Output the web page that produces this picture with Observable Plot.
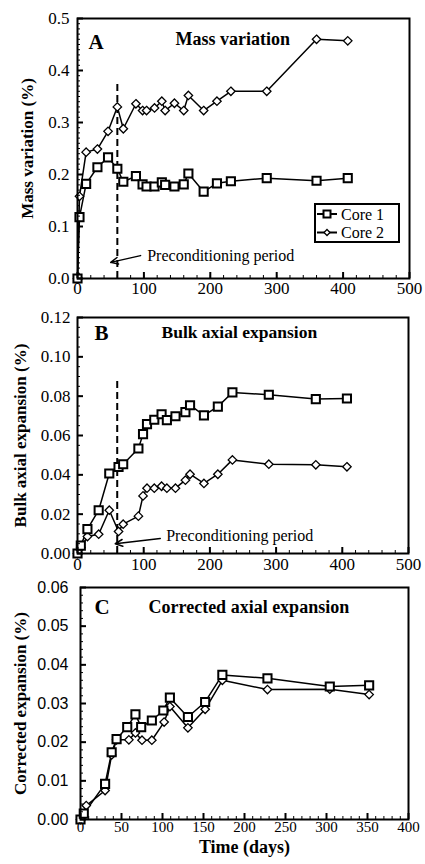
<!DOCTYPE html>
<html><head><meta charset="utf-8">
<script src="https://cdn.jsdelivr.net/npm/d3@7"></script>
<script src="https://cdn.jsdelivr.net/npm/@observablehq/plot@0.6"></script>
<style>
body{margin:0;background:#fff;}
#wrap{position:relative;width:425px;height:864px;overflow:hidden;}
#wrap > svg{display:block;}
#legend{position:absolute;left:314px;top:203px;}
</style></head><body><div id="wrap"></div>
<script>
// ---------- Panel A: mass variation ----------
const daysA = [0, 3, 13, 30, 46, 60, 69, 88, 98, 104, 116, 127, 132, 146, 160, 167, 190, 210, 231, 285, 360, 407];
const massCore1 = [0, 0.118, 0.182, 0.214, 0.233, 0.211, 0.186, 0.197, 0.181, 0.177, 0.177, 0.185, 0.180, 0.177, 0.181, 0.202, 0.167, 0.183, 0.187, 0.193, 0.188, 0.193];
const massCore2 = [0, 0.158, 0.243, 0.249, 0.283, 0.330, 0.288, 0.336, 0.323, 0.323, 0.328, 0.341, 0.323, 0.337, 0.323, 0.352, 0.323, 0.341, 0.360, 0.360, 0.460, 0.457];

// ---------- Panel B: bulk axial expansion ----------
const daysB = [0, 5, 15, 32, 48, 62, 69, 92, 99, 105, 116, 127, 135, 148, 163, 170, 191, 212, 234, 289, 360, 407];
const bulkCore1 = [0, 0.0040, 0.0124, 0.0220, 0.0407, 0.0440, 0.0454, 0.0534, 0.0607, 0.0658, 0.0680, 0.0708, 0.0678, 0.0698, 0.0719, 0.0754, 0.0702, 0.0747, 0.0819, 0.0807, 0.0785, 0.0788];
const bulkCore2 = [0, 0.0030, 0.0086, 0.0098, 0.0220, 0.0112, 0.0149, 0.0190, 0.0293, 0.0332, 0.0332, 0.0342, 0.0332, 0.0332, 0.0373, 0.0403, 0.0356, 0.0403, 0.0476, 0.0454, 0.0451, 0.0441];

// ---------- Panel C: corrected axial expansion ----------
const daysC1 = [0, 4, 30, 38, 44, 57, 67, 74, 87, 101, 109, 131, 152, 173, 228, 304, 352];
const corrCore1 = [0, 0.0015, 0.0092, 0.0174, 0.0208, 0.0239, 0.0272, 0.0239, 0.0256, 0.0282, 0.0315, 0.0265, 0.0304, 0.0374, 0.0365, 0.0344, 0.0347];
const daysC2 = [0, 7, 30, 38, 44, 59, 67, 75, 87, 102, 109, 131, 152, 173, 228, 304, 352];
const corrCore2 = [0, 0.0036, 0.0075, 0.0167, 0.0206, 0.0206, 0.0224, 0.0205, 0.0205, 0.0252, 0.0292, 0.0237, 0.0285, 0.0360, 0.0336, 0.0337, 0.0323];

// ---------- ticks ----------
const xTicksAB = [0, 100, 200, 300, 400, 500];
const xMinorAB = d3.range(0, 501, 20);
const yTicksA = [0, 0.1, 0.2, 0.3, 0.4, 0.5];
const yMinorA = d3.range(0, 0.5001, 0.01);
const yTicksB = [0, 0.02, 0.04, 0.06, 0.08, 0.10, 0.12];
const yMinorB = d3.range(0, 0.1201, 0.005);
const xTicksC = [0, 50, 100, 150, 200, 250, 300, 350, 400];
const xMinorC = d3.range(0, 401, 10);
const yTicksC = [0, 0.01, 0.02, 0.03, 0.04, 0.05, 0.06];
const yMinorC = d3.range(0, 0.0601, 0.002);

// ---------- annotations ----------
const precondDay = 60;
const precondTopA = 0.38, precondTopB = 0.089;
const arrowA = {x1: 95, y1: 0.044, x2: 50, y2: 0.031};
const arrowB = {x1: 125, y1: 0.0076, x2: 57, y2: 0.0050};
const labelA = {x: 105, y: 0.044};
const labelB = {x: 134, y: 0.009};
const seriesNames = ["Core 1", "Core 2"];

const SERIF = "Liberation Serif, Times New Roman, serif";
const SANS = "Liberation Sans, Arial, sans-serif";

function rows(xs, ys) { return xs.map((x, i) => ({x, y: ys[i]})); }

function panel(cfg) {
  const plotW = cfg.width - cfg.marginLeft - cfg.marginRight;
  const plotH = cfg.height - cfg.marginTop - cfg.marginBottom;
  const s1 = rows(cfg.x1, cfg.y1), s2 = rows(cfg.x2, cfg.y2);
  const marks = [
    ...(cfg.extra || []),
    Plot.line(s1, {x: "x", y: "y", stroke: "black", strokeWidth: 1.5}),
    Plot.line(s2, {x: "x", y: "y", stroke: "black", strokeWidth: 1.5}),
    Plot.dot(s2, {x: "x", y: "y", symbol: "diamond2", r: 3.8, fill: "white", stroke: "black", strokeWidth: 1.3}),
    Plot.dot(s1, {x: "x", y: "y", symbol: "square", r: 4.6, fill: "white", stroke: "black", strokeWidth: 2}),
    // inward ticks
    Plot.tickX(cfg.xMinor, {x: d => d, insetTop: plotH - 3, stroke: "black", strokeWidth: 1}),
    Plot.tickX(cfg.xTicks, {x: d => d, insetTop: plotH - 6, stroke: "black", strokeWidth: 2}),
    Plot.tickY(cfg.yMinor, {y: d => d, insetRight: plotW - 3, stroke: "black", strokeWidth: 1}),
    Plot.tickY(cfg.yTicks, {y: d => d, insetRight: plotW - 6, stroke: "black", strokeWidth: 2}),
    Plot.axisX(cfg.xTicks, {tickSize: 0, tickPadding: cfg.xPad, fontSize: cfg.xFont, fontFamily: SERIF, label: null}),
    Plot.axisY(cfg.yTicks, {tickSize: 0, tickPadding: cfg.yPad, tickFormat: d3.format(cfg.yFmt), fontSize: cfg.yFont, fontFamily: cfg.yFamily, label: null}),
    Plot.frame({stroke: "black", strokeWidth: 2}),
    // panel letter & title
    Plot.text([cfg.letter], {text: d => d, frameAnchor: "top-left", dx: cfg.letterDx, dy: cfg.letterDy, textAnchor: "start", lineAnchor: "middle", fontSize: 21, fontWeight: "bold", fontFamily: SERIF, fill: "black"}),
    Plot.text([cfg.title], {text: d => d, frameAnchor: "top-left", dx: cfg.titleDx, dy: cfg.titleDy, textAnchor: "start", lineAnchor: "middle", fontSize: cfg.titleFont, fontWeight: "bold", fontFamily: SERIF, fill: "black"}),
    // y axis title
    Plot.text([cfg.yLabel], {text: d => d, frameAnchor: "left", dx: cfg.yLabelDx, rotate: -90, textAnchor: "middle", lineAnchor: "middle", fontSize: 17, fontWeight: "bold", fontFamily: SERIF, fill: "black"}),
    ...(cfg.after || [])
  ];
  return Plot.plot({
    width: cfg.width, height: cfg.height,
    marginLeft: cfg.marginLeft, marginRight: cfg.marginRight,
    marginTop: cfg.marginTop, marginBottom: cfg.marginBottom,
    x: {domain: cfg.xDomain, axis: null},
    y: {domain: cfg.yDomain, axis: null},
    style: {fontFamily: SERIF, color: "black", background: "white", overflow: "visible"},
    marks
  });
}

function precondMarks(top, arrow, label) {
  return {
    extra: [
      Plot.ruleX([{x: precondDay, y1: 0, y2: top}], {x: "x", y1: "y1", y2: "y2", stroke: "black", strokeWidth: 2, strokeDasharray: "7,4"})
    ],
    after: [
      Plot.arrow([arrow], {x1: "x1", y1: "y1", x2: "x2", y2: "y2", stroke: "black", strokeWidth: 1.5, headLength: 8, headAngle: 50}),
      Plot.text([label], {x: "x", y: "y", text: () => "Preconditioning period", textAnchor: "start", lineAnchor: "middle", fontSize: 16, fontFamily: SERIF, fill: "black"})
    ]
  };
}

const wrap = document.getElementById("wrap");

const pA = precondMarks(precondTopA, arrowA, labelA);
wrap.append(panel({
  width: 425, height: 300, marginLeft: 77, marginRight: 16, marginTop: 18, marginBottom: 22,
  xDomain: [0, 500], yDomain: [0, 0.5],
  x1: daysA, y1: massCore1, x2: daysA, y2: massCore2,
  xTicks: xTicksAB, xMinor: xMinorAB, yTicks: yTicksA, yMinor: yMinorA,
  xPad: 3, yPad: 8, xFont: 17, yFont: 17, yFmt: ".1f", yFamily: SERIF,
  letter: "A", letterDx: 11, letterDy: 24,
  title: "Mass variation", titleDx: 98, titleDy: 21, titleFont: 18,
  yLabel: "Mass variation (%)", yLabelDx: -50,
  extra: pA.extra, after: pA.after
}));

const pB = precondMarks(precondTopB, arrowB, labelB);
wrap.append(panel({
  width: 425, height: 280, marginLeft: 77, marginRight: 17, marginTop: 17, marginBottom: 27,
  xDomain: [0, 500], yDomain: [0, 0.12],
  x1: daysB, y1: bulkCore1, x2: daysB, y2: bulkCore2,
  xTicks: xTicksAB, xMinor: xMinorAB, yTicks: yTicksB, yMinor: yMinorB,
  xPad: 4, yPad: 7, xFont: 17, yFont: 17, yFmt: ".2f", yFamily: SERIF,
  letter: "B", letterDx: 17, letterDy: 16,
  title: "Bulk axial expansion", titleDx: 84, titleDy: 15, titleFont: 17.5,
  yLabel: "Bulk axial expansion (%)", yLabelDx: -57,
  extra: pB.extra, after: pB.after
}));

wrap.append(panel({
  width: 425, height: 284, marginLeft: 80, marginRight: 17, marginTop: 7, marginBottom: 45,
  xDomain: [0, 400], yDomain: [0, 0.06],
  x1: daysC1, y1: corrCore1, x2: daysC2, y2: corrCore2,
  xTicks: xTicksC, xMinor: xMinorC, yTicks: yTicksC, yMinor: yMinorC,
  xPad: 2, yPad: 12, xFont: 15, yFont: 16, yFmt: ".2f", yFamily: SANS,
  letter: "C", letterDx: 14, letterDy: 20,
  title: "Corrected axial expansion", titleDx: 68, titleDy: 20, titleFont: 18,
  yLabel: "Corrected expansion (%)", yLabelDx: -60,
  after: [
    Plot.text(["Time (days)"], {text: d => d, frameAnchor: "bottom", dy: 28, lineAnchor: "middle", textAnchor: "middle", fontSize: 18, fontWeight: "bold", fontFamily: SERIF, fill: "black"})
  ]
}));

// legend (inside panel A)
const lg = d3.select(wrap).append("svg").attr("id", "legend").attr("width", 86).attr("height", 40);
lg.append("rect").attr("x", 1).attr("y", 1).attr("width", 84).attr("height", 38).attr("fill", "white").attr("stroke", "black").attr("stroke-width", 2);
seriesNames.forEach((name, i) => {
  const cy = 11 + i * 18.5;
  lg.append("line").attr("x1", 3).attr("x2", 23).attr("y1", cy).attr("y2", cy).attr("stroke", "black").attr("stroke-width", 2);
  if (i === 0) {
    lg.append("rect").attr("x", 9.5).attr("y", cy - 3.5).attr("width", 7).attr("height", 7).attr("fill", "white").attr("stroke", "black").attr("stroke-width", 2);
  } else {
    lg.append("path").attr("d", `M13,${cy-3}L16,${cy}L13,${cy+3}L10,${cy}Z`).attr("fill", "white").attr("stroke", "black").attr("stroke-width", 1.3);
  }
  lg.append("text").attr("x", 27).attr("y", cy).attr("dy", "0.35em").attr("font-family", SERIF).attr("font-size", 16).text(name);
});
</script></body></html>
